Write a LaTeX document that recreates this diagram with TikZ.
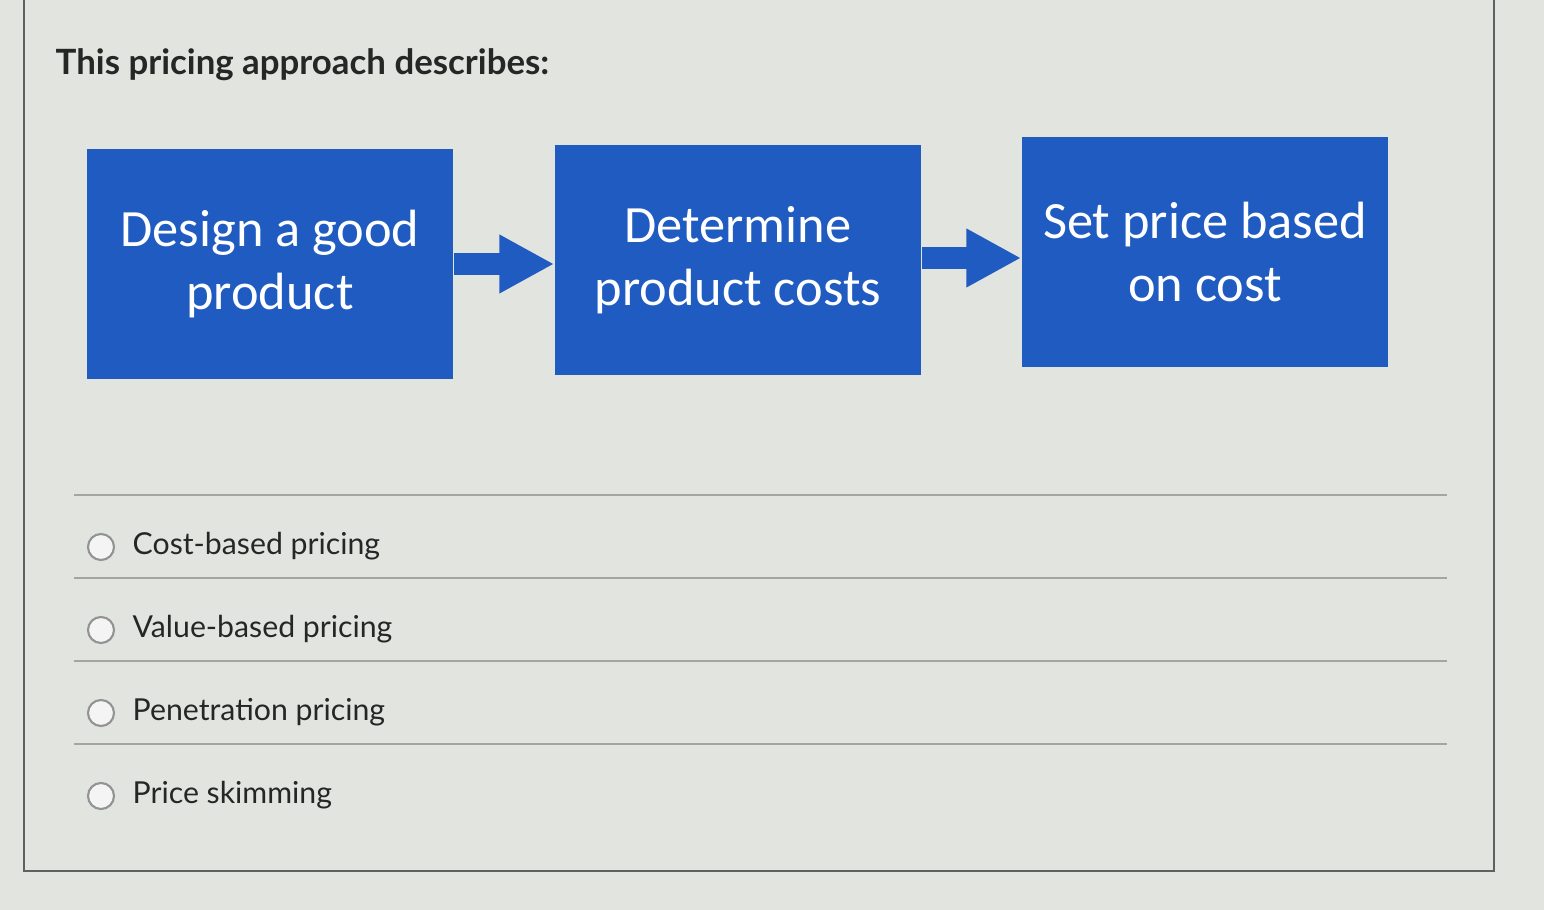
\documentclass[tikz,border=0pt]{standalone}
\usepackage{fontspec}
\setmainfont{Lato}
\newfontfamily\boxfont{Carlito}
\usetikzlibrary{arrows.meta}
\definecolor{pageback}{HTML}{E2E4E0}
\definecolor{stepblue}{HTML}{1F5BC1}
\definecolor{rulegray}{HTML}{A3A5A2}
\definecolor{inkgray}{HTML}{262626}

\tikzset{
	stepbox/.style={fill=stepblue, draw=none, minimum width=3.66cm, minimum height=2.29cm, text=white, align=center, font=\boxfont\fontsize{14.9}{17.9}\selectfont},
	flowarrow/.style={draw=stepblue, line width=6pt, -{Triangle[length=15.6pt, width=15.6pt]}},
	choice/.style={anchor=base west, text=inkgray, inner sep=0pt, font=\fontsize{8.6}{10}\selectfont},
	radio/.style={circle, draw=gray!85, fill=pageback!40!white, line width=.6pt, minimum size=.26cm, inner sep=0pt}
}

\begin{document}
\begin{tikzpicture}[x=.01cm, y=-.01cm]
				\fill[pageback] (0,0) rectangle (1544,910);
				\useasboundingbox (0,0) rectangle (1544,910);
				\draw[gray!75!black, line width=.7pt] (24,-5) -- (24,871) -- (1494,871) -- (1494,-5);
				\node[anchor=base west, text=inkgray, inner sep=0pt, font=\bfseries\fontsize{9.9}{12}\selectfont] (title) at (55,75) {This pricing approach describes:};
				\node[stepbox] (design) at (270,264) {Design a good\\product};
				\node[stepbox] (costs) at (738,260) {Determine\\product costs};
				\node[stepbox] (price) at (1205,252) {Set price based\\on cost};
				\draw[flowarrow] (design.east) -- (design.east -| costs.west);
				\draw[flowarrow] ([yshift=.02cm]costs.east) -- ([yshift=.02cm]costs.east -| price.west);
				\foreach \txt [count=\k] in {Cost-based pricing, Value-based pricing, Penetration pricing, Price skimming} {
					\pgfmathsetmacro{\yb}{472+83*\k}
					\draw[rulegray, line width=.6pt] (74,\yb-60) -- (1447,\yb-60);
					\node[radio] (r\k) at (101,\yb-8) {};
					\node[choice] (c\k) at (132,\yb) {\txt};
				}
			\end{tikzpicture}
\end{document}
